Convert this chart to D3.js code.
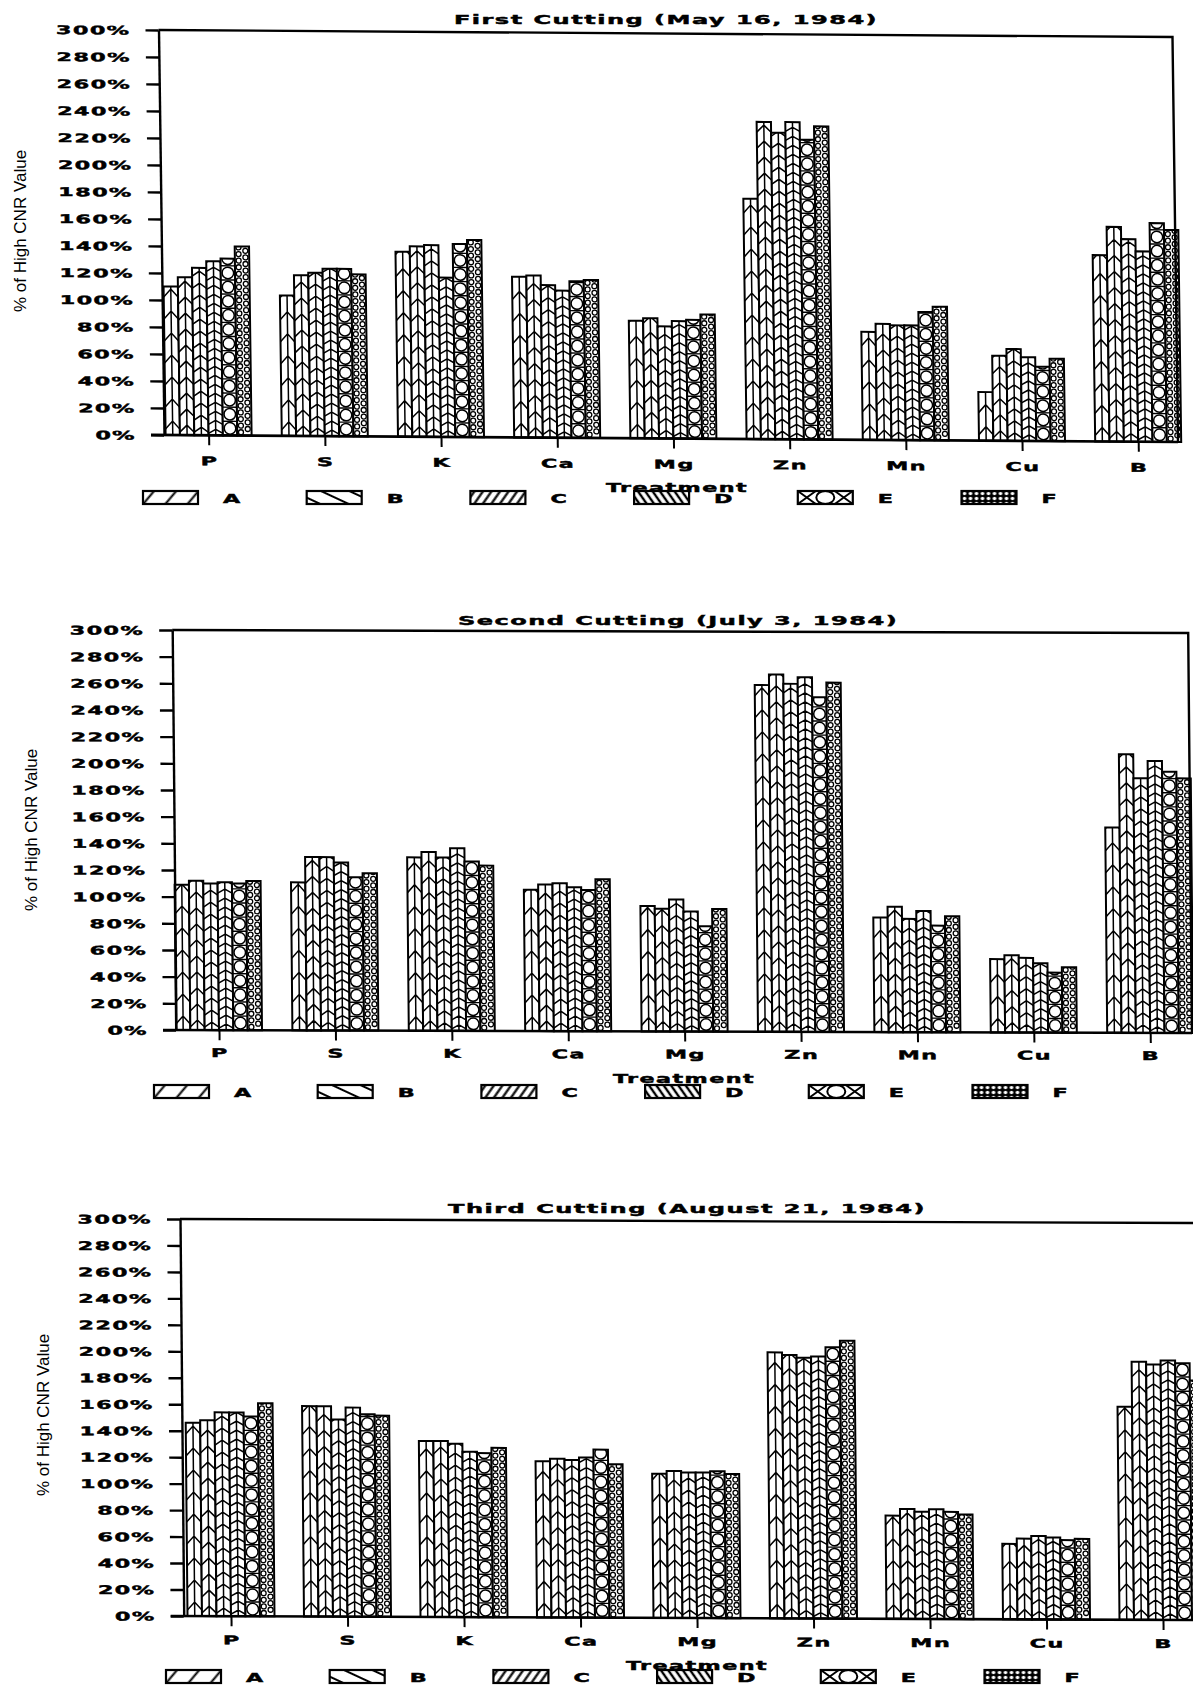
<!DOCTYPE html>
<html>
<head>
<meta charset="utf-8">
<script src="https://cdn.jsdelivr.net/npm/d3@7"></script>
<style>
  html, body { margin: 0; padding: 0; background: #fff; }
  svg { display: block; }
</style>
</head>
<body>
<svg id="chart" width="1193" height="1686"></svg>
<script>
// Nutrient treatments on the x axis, fertilizer rates A–F as series
const categories = ["P", "S", "K", "Ca", "Mg", "Zn", "Mn", "Cu", "B"];
const treatments = ["A", "B", "C", "D", "E", "F"];
const yTicks = [0, 20, 40, 60, 80, 100, 120, 140, 160, 180, 200, 220, 240, 260, 280, 300];

// % of high CNR value, one row per nutrient, columns A..F
const firstCutting = [
  [110, 117, 124, 129, 131, 140],
  [104, 119, 121, 124, 124, 120],
  [137, 141, 142, 118, 143, 146],
  [119, 120, 113, 109, 116, 117],
  [87, 89, 83, 87, 88, 92],
  [178, 235, 227, 235, 222, 232],
  [80, 86, 85, 85, 95, 99],
  [36, 63, 68, 62, 55, 61],
  [138, 159, 150, 141, 162, 157]
];
const secondCutting = [
  [109, 112, 110, 111, 110, 112],
  [111, 130, 130, 126, 115, 118],
  [130, 134, 130, 137, 127, 124],
  [106, 110, 111, 108, 106, 114],
  [94, 92, 99, 90, 79, 92],
  [260, 268, 261, 266, 251, 262],
  [86, 94, 85, 91, 80, 87],
  [55, 58, 56, 52, 45, 49],
  [154, 209, 191, 204, 196, 191]
];
const thirdCutting = [
  [146, 148, 154, 154, 151, 161],
  [159, 159, 149, 158, 153, 152],
  [133, 133, 131, 125, 124, 128],
  [118, 120, 119, 121, 127, 116],
  [109, 111, 110, 110, 111, 109],
  [201, 199, 197, 198, 205, 210],
  [78, 83, 81, 83, 81, 79],
  [57, 61, 63, 62, 60, 61],
  [161, 195, 193, 196, 194, 181]
];

const titles = [
  "First Cutting (May 16, 1984)",
  "Second Cutting (July 3, 1984)",
  "Third Cutting (August 21, 1984)"
];
const yAxisTitle = "% of High CNR Value";
const xAxisTitle = "Treatment";

// Panel geometry (plot frame, slight plotter skew, label placement)
const panels = [
  { rows: firstCutting, title: titles[0], x0: 164, y0: 435, yTop: 30, right: 1178, kx: 0.0136, ky: 0.0069,
    cat0: 208.6, step: 116.2, group: 86, catDy: 30, titleX: 666, titleY: 24, yTitleX: 20, yTitleY: 231,
    legX: 143, legY: 491, treatX: 677, treatY: 492 },
  { rows: secondCutting, title: titles[1], x0: 176, y0: 1030, yTop: 630, right: 1192, kx: 0.0095, ky: 0.003,
    cat0: 219, step: 116.4, group: 86, catDy: 27, titleX: 678, titleY: 625, yTitleX: 31, yTitleY: 830,
    legX: 154, legY: 1085, treatX: 684, treatY: 1083 },
  { rows: thirdCutting, title: titles[2], x0: 183.7, y0: 1616, yTop: 1219, right: 1210, kx: 0.0093, ky: 0.004,
    cat0: 231, step: 116.5, group: 87, catDy: 28, titleX: 687, titleY: 1213, yTitleX: 43, yTitleY: 1415,
    legX: 166, legY: 1670, treatX: 697, treatY: 1670 }
];

const SX = 1.85;         // horizontal stretch of the plotter lettering
const LS = "0.8px";      // letter spacing of the plotter lettering
const LEG_STEP = 163.7;  // spacing of legend entries
const svg = d3.select("#chart");
const defs = svg.append("defs");

function letterStyle(sel, size) {
  return sel
    .attr("font-family", "'DejaVu Sans', sans-serif")
    .attr("font-weight", "bold")
    .attr("font-size", size)
    .attr("letter-spacing", LS)
    .attr("fill", "#000")
    .attr("stroke", "#000")
    .attr("stroke-width", 0.45);
}

function plotText(parent, str, x, y, size, anchor) {
  return letterStyle(parent.append("text")
    .attr("transform", `translate(${x},${y}) scale(${SX},1)`)
    .attr("text-anchor", anchor || "middle"), size)
    .text(str);
}

// ---- legend swatch fills ----
function hatch(id, angle, spacing, width) {
  const p = defs.append("pattern").attr("id", id)
    .attr("patternUnits", "userSpaceOnUse")
    .attr("width", spacing).attr("height", 20)
    .attr("patternTransform", `rotate(${angle})`);
  p.append("rect").attr("width", spacing).attr("height", 20).attr("fill", "#fff");
  p.append("line").attr("x1", spacing / 2).attr("x2", spacing / 2)
    .attr("y1", 0).attr("y2", 20).attr("stroke", "#000").attr("stroke-width", width);
}
hatch("lg-A", 40, 17, 2);
hatch("lg-B", -65, 12, 2);
hatch("lg-C", 35, 7, 2.2);
hatch("lg-D", -35, 6, 2.4);
const pf = defs.append("pattern").attr("id", "lg-F").attr("patternUnits", "userSpaceOnUse")
  .attr("width", 6).attr("height", 5);
pf.append("rect").attr("width", 6).attr("height", 5).attr("fill", "#000");
pf.append("circle").attr("cx", 3).attr("cy", 2.5).attr("r", 1.8).attr("fill", "#fff");

// ---- bar fills: herringbone chevrons, stacked rings, small dots ----
const chevronStyle = {
  A: { period: 22, rise: 8, off: 14 },
  B: { period: 16, rise: 7, off: 10 },
  C: { period: 12, rise: 5, off: 8 },
  D: { period: 9, rise: 4, off: 6 }
};

function barFill(g, t, bx, by, bw, yb) {
  const cx = bx + bw / 2, L = bx, R = bx + bw;
  if (chevronStyle[t]) {
    const { period, rise, off } = chevronStyle[t];
    let d = `M${cx},${yb}V${by}`;
    for (let yy = yb - off; yy > by - rise - 1; yy -= period) {
      d += `M${L},${yy + rise}L${cx},${yy}L${R},${yy + rise}`;
    }
    g.append("path").attr("d", d)
      .attr("fill", "none").attr("stroke", "#000").attr("stroke-width", 1.5);
  } else if (t === "E") {
    const r = bw / 2 - 1.4, per = 2 * r + 2.6;
    let d = "";
    for (let k = 0; yb - k * per > by - per; k++) {
      const yj = yb - k * per;
      d += `M${L},${yj}H${R}`;
      g.append("circle").attr("cx", cx).attr("cy", yj - per / 2).attr("r", r)
        .attr("fill", "#fff").attr("stroke", "#000").attr("stroke-width", 1.5);
    }
    g.append("path").attr("d", d).attr("stroke", "#000").attr("stroke-width", 1.4);
  } else {
    const r = 2.5, per = 6.6;
    for (let k = 0; yb - k * per > by - per; k++) {
      const yc = yb - per / 2 - k * per;
      [cx - 3.4, cx + 3.4].forEach((xc, j) => {
        g.append("circle").attr("cx", xc).attr("cy", yc - (j ? per / 2 : 0)).attr("r", r)
          .attr("fill", "#fff").attr("stroke", "#000").attr("stroke-width", 1.3);
      });
    }
  }
}

panels.forEach((P, pi) => {
  const y = d3.scaleLinear().domain([0, 300]).range([P.y0, P.yTop]);
  const x = d3.scalePoint().domain(categories).range([P.cat0, P.cat0 + (categories.length - 1) * P.step]);
  const inner = d3.scaleBand().domain(treatments).range([-P.group / 2, P.group / 2]);

  // plot frame carries the slight skew of the pen plotter output
  const pg = svg.append("g")
    .attr("transform", `matrix(1,${P.ky},${P.kx},1,${-P.kx * P.y0},${-P.ky * P.x0})`);

  // bars
  P.rows.forEach((row, ci) => {
    row.forEach((v, ti) => {
      const t = treatments[ti];
      const bx = x(categories[ci]) + inner(t);
      const bw = inner.bandwidth();
      const by = y(v);
      const id = `clip-${pi}-${ci}-${ti}`;
      defs.append("clipPath").attr("id", id)
        .append("rect").attr("x", bx).attr("y", by).attr("width", bw).attr("height", P.y0 - by);
      const bg = pg.append("g");
      bg.append("rect").attr("x", bx).attr("y", by).attr("width", bw).attr("height", P.y0 - by)
        .attr("fill", "#fff");
      barFill(bg.append("g").attr("clip-path", `url(#${id})`), t, bx, by, bw, P.y0);
      bg.append("rect").attr("x", bx).attr("y", by).attr("width", bw).attr("height", P.y0 - by)
        .attr("fill", "none").attr("stroke", "#000").attr("stroke-width", 2);
    });
  });

  // frame: top and right edges, baseline
  pg.append("path")
    .attr("d", `M${P.x0},${P.yTop}H${P.right}V${P.y0}`)
    .attr("fill", "none").attr("stroke", "#000").attr("stroke-width", 2.4);
  pg.append("line").attr("x1", P.x0 - 13).attr("x2", P.right).attr("y1", P.y0).attr("y2", P.y0)
    .attr("stroke", "#000").attr("stroke-width", 2.6);

  // y axis
  const ya = pg.append("g").attr("transform", `translate(${P.x0},0)`)
    .call(d3.axisLeft(y).tickValues(yTicks).tickSize(13).tickSizeOuter(0).tickFormat(d => d + "%"));
  ya.select(".domain").attr("stroke", "#000").attr("stroke-width", 2.4);
  ya.selectAll(".tick line").attr("stroke", "#000").attr("stroke-width", 2.4);
  letterStyle(ya.selectAll(".tick text")
    .attr("x", 0).attr("dy", "0.36em")
    .attr("transform", `translate(-28,0) scale(${SX},1)`), 12);

  // x axis (category ticks + labels)
  const xa = pg.append("g").attr("transform", `translate(0,${P.y0})`)
    .call(d3.axisBottom(x).tickSize(10).tickSizeOuter(0));
  xa.select(".domain").remove();
  xa.selectAll(".tick line").attr("stroke", "#000").attr("stroke-width", 2);
  letterStyle(xa.selectAll(".tick text")
    .attr("y", 0).attr("dy", 0)
    .attr("transform", `translate(0,${P.catDy}) scale(${SX},1)`), 12);

  // title
  plotText(svg, P.title, P.titleX, P.titleY, 13, "middle");

  // y axis title
  svg.append("text")
    .attr("transform", `translate(${P.yTitleX},${P.yTitleY}) rotate(-90)`)
    .attr("text-anchor", "middle").attr("dominant-baseline", "central")
    .attr("font-family", "'Liberation Sans', sans-serif")
    .attr("font-size", 17).attr("fill", "#000")
    .text(yAxisTitle);

  // x axis title
  plotText(svg, xAxisTitle, P.treatX, P.treatY, 12, "middle");

  // legend
  const lx = d3.scalePoint().domain(treatments).range([P.legX, P.legX + 5 * LEG_STEP]);
  treatments.forEach(t => {
    const g = svg.append("g").attr("transform", `translate(${lx(t)},${P.legY})`);
    const W = 55, H = 13;
    if (t === "E") {
      g.append("rect").attr("width", W).attr("height", H).attr("fill", "#fff");
      g.append("path")
        .attr("d", `M0,0L18,${H}M0,${H}L18,0M${W - 18},0L${W},${H}M${W - 18},${H}L${W},0`)
        .attr("stroke", "#000").attr("stroke-width", 2);
      g.append("ellipse").attr("cx", W / 2).attr("cy", H / 2).attr("rx", 9).attr("ry", H / 2)
        .attr("fill", "#fff").attr("stroke", "#000").attr("stroke-width", 2);
    } else {
      g.append("rect").attr("width", W).attr("height", H).attr("fill", `url(#lg-${t})`);
    }
    g.append("rect").attr("width", W).attr("height", H)
      .attr("fill", "none").attr("stroke", "#000").attr("stroke-width", 2.2);
    plotText(g, t, 80, 12, 12, "start");
  });
});
</script>
</body>
</html>
